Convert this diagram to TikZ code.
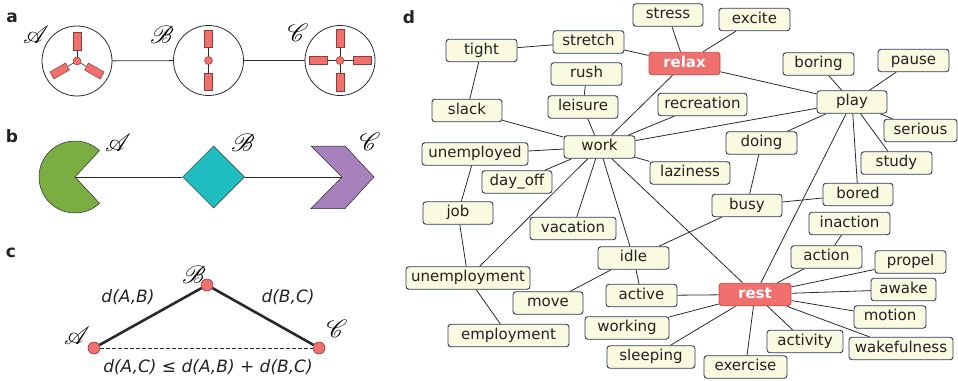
\documentclass[tikz,border=0pt]{standalone}
\usepackage{fontspec}
\setmainfont{DejaVu Sans}
\usepackage{mathrsfs}
\usetikzlibrary{backgrounds,shapes.geometric}
\definecolor{nodefill}{HTML}{FAFAE1}
\definecolor{nodeborder}{HTML}{2B3B5C}
\definecolor{redfill}{HTML}{EF706D}
\definecolor{redborder}{HTML}{C24F4C}
\definecolor{edgecol}{HTML}{2A2A2A}
\definecolor{txtcol}{HTML}{222222}
\definecolor{pacgreen}{HTML}{7AAD42}
\definecolor{diateal}{HTML}{1FBCC0}
\definecolor{chevpurple}{HTML}{A681BB}
\definecolor{barborder}{HTML}{8E3A38}
\newcommand\wnode[5]{\node[wn, minimum width=#4pt] (#1) at (#2,#3) {#5};}
\newcommand\rnode[5]{\node[rn, minimum width=#4pt] (#1) at (#2,#3) {#5};}
\begin{document}
\begin{tikzpicture}[x=1pt,y=-1pt,
  wn/.style={draw=nodeborder, fill=nodefill, rounded corners=3pt, line width=0.9pt,
    minimum height=22.5pt, inner sep=0pt, text height=11pt, text depth=3.3pt,
    font=\fontsize{15}{15}\selectfont, text=txtcol},
  rn/.style={wn, fill=redfill, draw=redborder, text=white, font=\fontsize{15}{15}\selectfont\bfseries},
  edge/.style={draw=edgecol, line width=0.8pt},
  panel/.style={font=\fontsize{17}{17}\selectfont\bfseries, text=txtcol, inner sep=0pt},
  scr/.style={font=\fontsize{26}{26}\selectfont, inner sep=0pt},
  circ/.style={circle, draw=edgecol, line width=0.8pt, minimum size=70pt, inner sep=0pt},
  rbar/.style={rectangle, fill=redfill, draw=barborder, line width=0.5pt, minimum height=8pt, inner sep=0pt},
  rdot/.style={circle, fill=redfill, draw=barborder, line width=0.5pt, minimum size=8pt, inner sep=0pt},
  cdot/.style={circle, fill=redfill, draw=barborder, line width=0.6pt, minimum size=12pt, inner sep=0pt},
  shp/.style={draw=edgecol, line width=0.5pt},
  ctext/.style={font=\fontsize{17}{17}\selectfont\itshape, text=txtcol, inner sep=0pt}
]
\useasboundingbox (0,0) rectangle (958,380);

% ---------------- panel labels
\node[panel] (la) at (12,18) {a};
\node[panel] (lb) at (12,136) {b};
\node[panel] (lc) at (11,253) {c};
\node[panel] (ld) at (409,17) {d};

% ---------------- panel a
\node[circ] (ca) at (77,61) {};
\node[circ] (cb) at (208.5,60.5) {};
\node[circ] (cc) at (340,60.5) {};
\draw[edge] (ca) -- (cb);
\draw[edge] (cb) -- (cc);
\foreach \a in {90,210,330}{
  \draw[edge, line width=0.6pt] (ca.center) -- ++(\a:11pt);
  \node[rbar, minimum width=18pt, rotate=\a] at ([shift={(\a:20pt)}]ca.center) {};
}
\node[rdot] (da) at (ca.center) {};
\foreach \a in {90,270}{
  \draw[edge, line width=0.6pt] (cb.center) -- ++(\a:13pt);
  \node[rbar, minimum width=17pt, rotate=\a] at ([shift={(\a:21.5pt)}]cb.center) {};
}
\node[rdot] (db) at (cb.center) {};
\foreach \a in {0,90,180,270}{
  \draw[edge, line width=0.6pt] (cc.center) -- ++(\a:13pt);
  \node[rbar, minimum width=18pt, rotate=\a] at ([shift={(\a:22pt)}]cc.center) {};
}
\node[rdot] (dc) at (cc.center) {};
\node[scr] (sa1) at (36,35) {$\mathscr{A}$};
\node[scr] (sb1) at (162,35) {$\mathscr{B}$};
\node[scr] (sc1) at (298,33) {$\mathscr{C}$};

% ---------------- panel b
\coordinate (pac) at (75,177);
\coordinate (notch) at (342,177);
\node[diamond, aspect=1, fill=diateal, shp, minimum width=62pt, minimum height=62pt, inner sep=0pt] (dm) at (213.5,177) {};
\draw[edge] (pac) -- (dm);
\draw[edge] (dm) -- (notch);
\draw[shp, fill=pacgreen] (pac) -- ++(47:36pt) arc[start angle=47, end angle=313, radius=36pt] -- cycle;
\draw[shp, fill=chevpurple] (311,146) -- (345,146) -- (374,177) -- (345,208.5) -- (311,208.5) -- (notch) -- cycle;
\node[scr] (sa2) at (118,143) {$\mathscr{A}$};
\node[scr] (sb2) at (243,143) {$\mathscr{B}$};
\node[scr] (sc2) at (370,142) {$\mathscr{C}$};

% ---------------- panel c
\node[cdot] (pa) at (94,348) {};
\node[cdot] (pb) at (207,285) {};
\node[cdot] (pcc) at (319,348) {};
\draw[draw=edgecol, line width=2.6pt] (pa) -- (pb);
\draw[draw=edgecol, line width=2.6pt] (pb) -- (pcc);
\draw[draw=edgecol, line width=0.5pt, dash pattern=on 3.5pt off 2.5pt] (pa) -- (pcc);
\node[scr] (sa3) at (77,336) {$\mathscr{A}$};
\node[scr] (sb3) at (194,275) {$\mathscr{B}$};
\node[scr] (sc3) at (337,329) {$\mathscr{C}$};
\node[ctext] (tab) at (128,297) {d(A,B)};
\node[ctext] (tbc) at (288,297) {d(B,C)};
\node[ctext] (tac) at (208,367) {d(A,C) ≤ d(A,B) + d(B,C)};

% ---------------- panel d nodes
\wnode{stress}{668}{15}{70}{stress}
\wnode{excite}{754.5}{19.5}{71}{excite}
\wnode{stretch}{588.5}{42}{71}{stretch}
\wnode{tight}{481.5}{50.5}{71}{tight}
\rnode{relax}{684.5}{63.5}{71}{relax}
\wnode{boring}{818.5}{64}{71}{boring}
\wnode{pause}{913.5}{60.5}{71}{pause}
\wnode{rush}{586.5}{74}{71}{rush}
\wnode{play}{852}{102}{70}{play}
\wnode{slack}{467}{110.5}{70}{slack}
\wnode{leisure}{583}{107}{70}{leisure}
\wnode{recreation}{702.5}{104.5}{89}{recreation}
\wnode{serious}{920.5}{130.5}{73}{serious}
\wnode{work}{599.5}{147}{71}{work}
\wnode{unemployed}{475}{154}{106}{unemployed}
\wnode{doing}{761.5}{143}{71}{doing}
\wnode{laziness}{690}{173}{80}{laziness}
\wnode{study}{896.5}{163}{71}{study}
\wnode{dayoff}{517}{182}{70}{day\_off}
\wnode{bored}{858}{194.5}{70}{bored}
\wnode{busy}{747}{205.5}{70}{busy}
\wnode{job}{458}{213}{70}{job}
\wnode{inaction}{849.5}{223.5}{81}{inaction}
\wnode{vacation}{573}{228.5}{86}{vacation}
\wnode{idle}{633.5}{258}{71}{idle}
\wnode{action}{826.5}{257}{71}{action}
\wnode{propel}{910.5}{262}{71}{propel}
\wnode{unemployment}{468}{278}{124}{unemployment}
\rnode{rest}{755}{294.5}{72}{rest}
\wnode{awake}{903.5}{289.5}{65}{awake}
\wnode{move}{548}{303}{70}{move}
\wnode{active}{641.5}{295.5}{71}{active}
\wnode{motion}{890}{317}{72}{motion}
\wnode{working}{627}{328}{84}{working}
\wnode{activity}{805}{341.5}{76}{activity}
\wnode{wakefulness}{901}{348.5}{104}{wakefulness}
\wnode{employment}{508.5}{335.5}{121}{employment}
\wnode{sleeping}{651}{357}{88}{sleeping}
\wnode{exercise}{745.5}{367}{83}{exercise}

% ---------------- panel d edges
\begin{scope}[on background layer]
\foreach \s/\t in {stress/relax, excite/relax, stretch/relax, relax/work, relax/play,
  stretch/tight, tight/slack, slack/work, rush/leisure, leisure/work, recreation/work,
  work/play, work/unemployed, work/dayoff, work/laziness, work/vacation, work/unemployment,
  work/idle, work/rest, boring/play, pause/play, serious/play, study/play, bored/play,
  doing/play, play/rest, unemployed/job, job/unemployment, unemployment/employment,
  doing/busy, busy/bored, busy/idle, idle/move, idle/active, active/rest,
  inaction/action, action/rest, rest/propel, rest/awake, rest/motion, rest/wakefulness,
  rest/activity, rest/exercise, rest/sleeping, rest/working}
  \draw[edge] (\s) -- (\t);
\end{scope}
\end{tikzpicture}
\end{document}
